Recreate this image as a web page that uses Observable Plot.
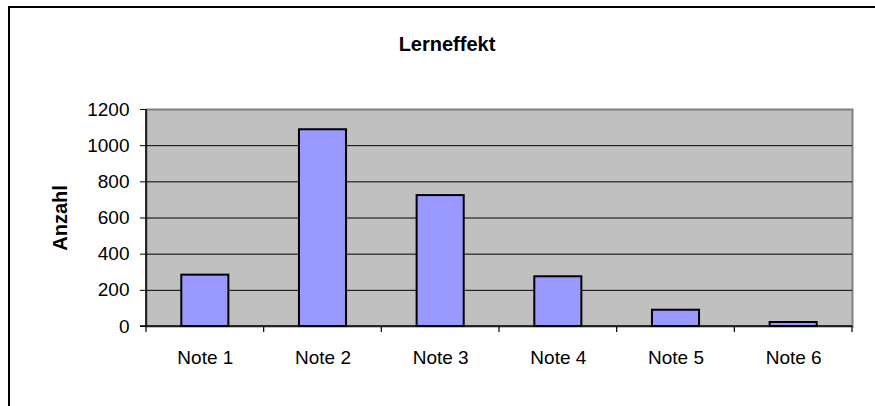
<!DOCTYPE html>
<html>
<head>
<meta charset="utf-8">
<script src="https://cdn.jsdelivr.net/npm/d3@7"></script>
<script src="https://cdn.jsdelivr.net/npm/@observablehq/plot@0.6"></script>
<style>
html, body { margin: 0; padding: 0; background: #fff; }
#wrap { position: relative; width: 875px; height: 406px; overflow: hidden; font-family: "Liberation Sans", Arial, sans-serif; }
#frame { position: absolute; left: 8px; top: 6px; width: 900px; height: 500px; border-left: 2px solid #000; border-top: 2px solid #000; box-sizing: border-box; }
#title { position: absolute; top: 34px; left: 0; width: 894px; text-align: center; font-weight: bold; font-size: 20px; line-height: 20px; color: #000; }
#chart { position: absolute; left: 0; top: 0; }
</style>
</head>
<body>
<div id="wrap">
  <div id="frame"></div>
  <div id="title">Lerneffekt</div>
  <div id="chart"></div>
</div>
<script>
const categories = ["Note 1", "Note 2", "Note 3", "Note 4", "Note 5", "Note 6"];
const counts = [284, 1088, 724, 275, 90, 22];
const yTicks = [0, 200, 400, 600, 800, 1000, 1200];
const yTitle = "Anzahl";

const data = categories.map((note, i) => ({note, count: counts[i]}));

// Draws the black left/bottom axis lines and the category boundary ticks
function axisDecor(index, scales, values, dims) {
  const x = scales.x, y = scales.y;
  const bw = typeof x.bandwidth === "function" ? x.bandwidth() : x.bandwidth;
  const step = typeof x.step === "function" ? x.step() : bw / 0.4;
  const gap = (step - bw) / 2;
  const edges = categories.map(c => x(c) - gap);
  edges.push(x(categories[categories.length - 1]) + bw + gap);
  const y0 = y(0), yTop = y(yTicks[yTicks.length - 1]);
  const g = d3.create("svg:g").attr("stroke", "#000").attr("fill", "none");
  g.append("line").attr("x1", edges[0]).attr("x2", edges[0]).attr("y1", yTop).attr("y2", y0).attr("stroke-width", 1.5);
  g.append("line").attr("x1", edges[0] - 6).attr("x2", edges[edges.length - 1]).attr("y1", y0).attr("y2", y0).attr("stroke-width", 1.5);
  for (const e of edges) {
    g.append("line").attr("x1", e).attr("x2", e).attr("y1", y0).attr("y2", y0 + 6).attr("stroke-width", 1.2);
  }
  return g.node();
}

const chart = Plot.plot({
  width: 875,
  height: 406,
  marginLeft: 146,
  marginRight: 23,
  marginTop: 109,
  marginBottom: 80,
  style: {fontFamily: "'Liberation Sans', Arial, sans-serif", fontSize: "19px", background: "transparent", color: "#000"},
  x: {domain: categories, paddingInner: 0.6, paddingOuter: 0.3, round: false, label: null, tickSize: 0, tickPadding: 24},
  y: {domain: [0, 1200], ticks: yTicks, tickFormat: d3.format("d"), label: null, tickSize: 6, tickPadding: 11},
  marks: [
    Plot.frame({fill: "#C0C0C0", stroke: "#808080", strokeWidth: 2}),
    Plot.gridY(yTicks.slice(1, -1), {stroke: "#000", strokeOpacity: 1, strokeWidth: 1}),
    Plot.barY(data, {x: "note", y: "count", fill: "#9999FF", stroke: "#000", strokeWidth: 2}),
    axisDecor,
    Plot.text([yTitle], {frameAnchor: "left", textAnchor: "middle", rotate: -90, dx: -86, fontWeight: "bold", fontSize: 20})
  ]
});
document.getElementById("chart").appendChild(chart);
</script>
</body>
</html>
